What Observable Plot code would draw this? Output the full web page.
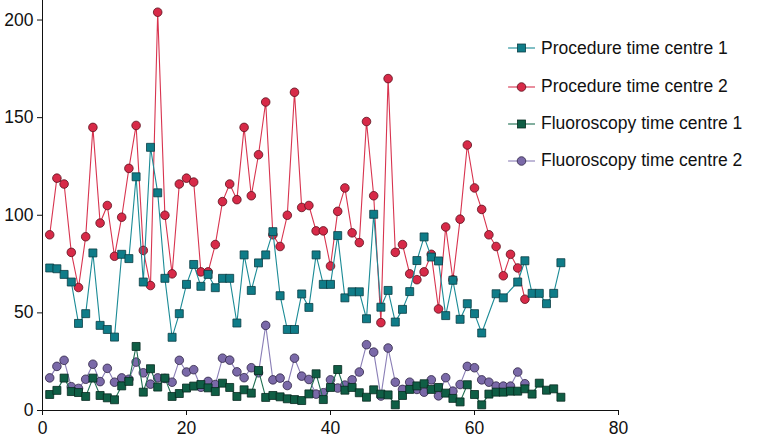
<!DOCTYPE html>
<html>
<head>
<meta charset="utf-8">
<script src="https://cdn.jsdelivr.net/npm/d3@7"></script>
<script src="https://cdn.jsdelivr.net/npm/@observablehq/plot@0.6"></script>
<style>
  body { margin: 0; background: #fff; }
  #wrap { position: relative; width: 761px; height: 441px; font-family: "Liberation Sans", Arial, sans-serif; }
  #legend { position: absolute; left: 0; top: 0; }
  .item { position: absolute; left: 506px; height: 20px; display: flex; align-items: center; font-size: 17.5px; color: #111; white-space: nowrap; }
  .item svg { margin-right: 5px; }
</style>
</head>
<body>
<div id="wrap"><div id="chart"></div><div id="legend"></div></div>
<script>
// Series labels
const seriesNames = ["Procedure time centre 1", "Procedure time centre 2", "Fluoroscopy time centre 1", "Fluoroscopy time centre 2"];
const xTicks = [0, 20, 40, 60, 80];
const yTicks = [0, 50, 100, 150, 200];

// Procedure time centre 1 (patients 1..72; 62 and 65 not shown)
const procCentre1 = [73, 72.6, 69.7, 65.8, 44.6, 49.6, 80.7, 43.6, 41.5, 37.6,
  80, 77.8, 119.7, 65.8, 134.8, 111.5, 67.7, 37.5, 49.6, 64.6,
  74.8, 63.6, 69.7, 62.9, 67.7, 67.7, 44.8, 79.7, 61.5, 75.6,
  79.7, 91.6, 58.8, 41.5, 41.5, 59.7, 52.8, 79.7, 64.6, 64.6,
  89.6, 57.7, 60.8, 60.8, 47, 100.5, 52.9, 61.5, 45.3, 51.8,
  60.9, 76.8, 88.9, 78.6, 76.6, 48.6, 66.7, 46.7, 54.7, 49.6,
  39.7, null, 59.8, 57.7, null, 65.8, 76.7, 60, 60, 54.7,
  60, 75.7];
// Procedure time centre 2 (patients 1..67)
const procCentre2 = [90, 119, 116, 81, 63, 89, 145, 96, 105, 79,
  99, 124, 146, 82, 64, 204, 100, 70, 116, 119,
  117, 71, 71, 85, 107, 116, 108, 145, 110, 131,
  158, 90, 84, 100, 163, 104, 105, 92, 92, 74,
  102, 114, 91, 86, 148, 110, 45, 170, 81, 85,
  70, 67, 71, 80, 52, 94, 67, 98, 136, 114,
  103, 90, 84, 69, 80, 73, 57];
// Fluoroscopy time centre 1 (patients 1..72)
const fluoroCentre1 = [8.2, 10.3, 16.6, 9.7, 9.2, 7.2, 16.6, 7.7, 6.5, 5.5,
  12.6, 14.9, 32.8, 9.4, 21.4, 12, 16.6, 7.2, 8.7, 11.5,
  12.5, 13.3, 11.6, 9.7, 14, 11.8, 7.2, 10.6, 8.9, 20.5,
  6.7, 7.7, 7, 6, 5.6, 5.1, 8.5, 18.8, 5.6, 11.8,
  21, 10.4, 11.8, 9.1, 6.8, 10.6, 8.4, 8, 2.9, 7.7,
  10.8, 12.6, 13.7, 10.8, 11.8, 8.9, 6.2, 4.4, 13.2, 8.2,
  2.9, 8.4, 9.4, 9.4, 9.9, 9.9, 11.1, 8.4, 14, 10.4,
  11.1, 6.8];
// Fluoroscopy time centre 2 (patients 1..67)
const fluoroCentre2 = [16.7, 22.6, 25.7, 12.2, 11.3, 16, 23.7, 14.8, 21.6, 14.5,
  16.7, 16, 24.8, 19.3, 13.5, 16.7, 16.4, 14.5, 25.7, 19.7,
  20.9, 11.9, 14.9, 13.3, 26.8, 25.8, 19.8, 16.8, 21.9, 19.3,
  43.6, 15.7, 16.6, 12.8, 26.8, 17.6, 15.9, 8.4, 9.1, 15.7,
  11.5, 13, 15.7, 19.7, 33.7, 29.9, 7.4, 32, 14.5, 10.8,
  14.5, 10.8, 9.4, 15.7, 7.5, 16.8, 9.9, 13.3, 22.6, 21.9,
  15.7, 14.5, 12.5, 12.5, 12.5, 19.7, 13.7];

const styles = [
  {line: "#1b8b96", fill: "#0f7c88", stroke: "#0a3d44", symbol: "square", r: 4.5},
  {line: "#d8344f", fill: "#d72a48", stroke: "#5a0f1c", symbol: "circle", r: 4.3},
  {line: "#1d6e50", fill: "#0f5e45", stroke: "#062a1f", symbol: "square", r: 4.5},
  {line: "#8a7eb6", fill: "#7a69a8", stroke: "#2e2545", symbol: "circle", r: 4.3}
];

function toRows(values, name) {
  return values.map((v, i) => ({x: i + 1, y: v, s: name})).filter(d => d.y != null);
}
const rows = [procCentre1, procCentre2, fluoroCentre1, fluoroCentre2].map((v, k) => toRows(v, seriesNames[k]));

// drawing order: centre 2 under centre 1
const order = [1, 0, 3, 2];
const marks = [];
for (const k of order) {
  const st = styles[k];
  marks.push(Plot.line(rows[k], {x: "x", y: "y", stroke: st.line, strokeWidth: 1.1}));
  marks.push(Plot.dot(rows[k], {x: "x", y: "y", symbol: st.symbol, r: st.r, fill: st.fill, stroke: st.stroke, strokeWidth: 0.8}));
}

const chart = Plot.plot({
  width: 761,
  height: 441,
  marginLeft: 42,
  marginRight: 143,
  marginTop: 0,
  marginBottom: 31,
  style: {fontFamily: "'Liberation Sans', Arial, sans-serif", fontSize: "17.5px", color: "#111", background: "#fff"},
  x: {domain: [0, 80]},
  y: {domain: [0, 210]},
  marks: [
    Plot.axisX({ticks: xTicks, tickSize: 5, tickPadding: 6, label: null, fontSize: 17.5}),
    Plot.axisY({ticks: yTicks, tickSize: 5, tickPadding: 4, label: null, fontSize: 17.5}),
    Plot.ruleX([0], {stroke: "#111"}),
    Plot.ruleY([0], {stroke: "#111"}),
    ...marks
  ]
});
document.getElementById("chart").appendChild(chart);

// Legend overlay
const legendTops = [38, 76.5, 113.5, 150.5];
const legend = d3.select("#legend");
seriesNames.forEach((name, k) => {
  const st = styles[k];
  const item = legend.append("div").attr("class", "item").style("top", legendTops[k] + "px");
  const svg = item.append("svg").attr("width", 30).attr("height", 20);
  svg.append("line").attr("x1", 2).attr("x2", 29).attr("y1", 10).attr("y2", 10).attr("stroke", st.line).attr("stroke-width", 1.1);
  if (st.symbol === "square") {
    const s = st.r * Math.sqrt(Math.PI);
    svg.append("rect").attr("x", 15.5 - s / 2).attr("y", 10 - s / 2).attr("width", s).attr("height", s)
      .attr("fill", st.fill).attr("stroke", st.stroke).attr("stroke-width", 0.8);
  } else {
    svg.append("circle").attr("cx", 15.5).attr("cy", 10).attr("r", st.r)
      .attr("fill", st.fill).attr("stroke", st.stroke).attr("stroke-width", 0.8);
  }
  item.append("span").text(name);
});
</script>
</body>
</html>
